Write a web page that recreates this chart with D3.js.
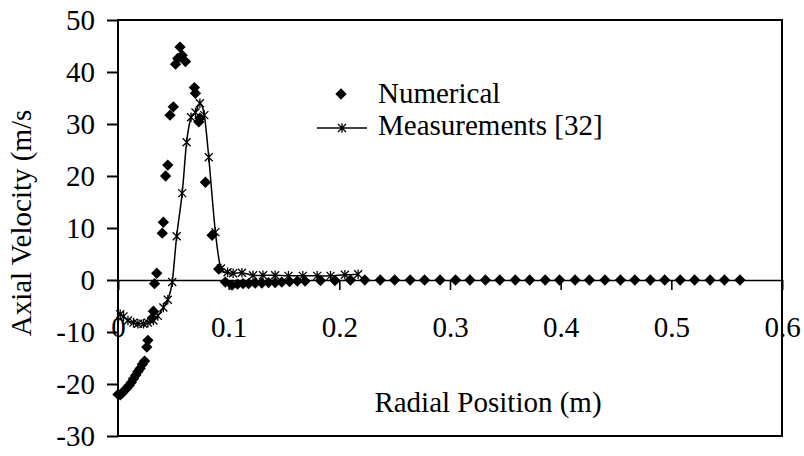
<!DOCTYPE html>
<html>
<head>
<meta charset="utf-8">
<script src="https://cdn.jsdelivr.net/npm/d3@7/dist/d3.min.js"></script>
<style>
body { margin: 0; background: #fff; }
text { font-family: "Liberation Serif", "Times New Roman", serif; fill: #000; }
</style>
</head>
<body>
<div class="chart"></div>
<script>
// Numerical results (diamonds)
var numX = [0.000, 0.002, 0.004, 0.006, 0.008, 0.010, 0.012, 0.014, 0.016, 0.018, 0.020, 0.022, 0.024,
	0.026, 0.027, 0.031, 0.032, 0.033, 0.035, 0.040, 0.041, 0.043, 0.045, 0.047, 0.050,
	0.052, 0.054, 0.056, 0.058, 0.061, 0.069, 0.070, 0.073, 0.074, 0.079, 0.085, 0.091,
	0.097, 0.103, 0.108, 0.113, 0.118, 0.124, 0.130, 0.136, 0.142, 0.148, 0.155, 0.162,
	0.169, 0.183, 0.196, 0.210, 0.223, 0.237, 0.250, 0.264, 0.277, 0.291, 0.305, 0.318,
	0.332, 0.345, 0.359, 0.372, 0.386, 0.399, 0.413, 0.426, 0.440, 0.454, 0.467, 0.481,
	0.494, 0.508, 0.521, 0.535, 0.548, 0.562];
var numY = [-22.0, -22.1, -21.7, -21.2, -20.8, -20.3, -19.7, -19.0, -18.3, -17.6, -17.0, -16.2, -15.6,
	-12.9, -11.6, -7.3, -6.0, -0.7, 1.3, 9.0, 11.1, 20.0, 22.1, 31.7, 33.3,
	41.5, 42.6, 44.8, 43.2, 42.0, 37.0, 35.9, 30.4, 31.1, 18.8, 8.6, 2.1,
	-0.4, -1.0, -0.8, -0.7, -0.7, -0.6, -0.6, -0.5, -0.5, -0.4, -0.3, -0.2,
	-0.2, -0.1, -0.1, 0, 0, 0, 0, 0, 0, 0, 0, 0,
	0, 0, 0, 0, 0, 0, 0, 0, 0, 0, 0, 0,
	0, 0, 0, 0, 0, 0];

// Measurements [32] (asterisks + smoothed line)
var measX = [0.002, 0.005, 0.009, 0.014, 0.018, 0.023, 0.027, 0.032, 0.036, 0.041, 0.045, 0.049,
	0.053, 0.058, 0.062, 0.066, 0.070, 0.074, 0.078, 0.082, 0.088, 0.093, 0.099, 0.104,
	0.112, 0.122, 0.131, 0.142, 0.154, 0.167, 0.180, 0.192, 0.205, 0.217];
var measY = [-6.6, -7.0, -7.8, -8.2, -8.4, -8.4, -8.2, -7.8, -6.9, -5.3, -3.8, -0.4,
	8.4, 16.7, 26.5, 31.3, 32.2, 34.0, 31.7, 23.6, 9.2, 2.2, 1.5, 1.3,
	1.4, 0.9, 0.9, 0.9, 0.8, 0.8, 0.8, 0.8, 1.0, 1.1];

var xTicks = [0, 0.1, 0.2, 0.3, 0.4, 0.5, 0.6];
var xTickLabels = ["0", "0.1", "0.2", "0.3", "0.4", "0.5", "0.6"];
var yTicks = [-30, -20, -10, 0, 10, 20, 30, 40, 50];

var seriesNames = ["Numerical", "Measurements [32]"];
var xTitle = "Radial Position (m)";
var yTitle = "Axial Velocity (m/s";

var width = 804,
	height = 456;
var fontSize = 29;

var x = d3.scaleLinear().domain([0, 0.6]).range([118, 782]);
var y = d3.scaleLinear().domain([-30, 50]).range([436, 20]);

var svg = d3.select(".chart")
	.append("svg")
	.attr("width", width)
	.attr("height", height);

//Plot area frame
svg.append("rect")
	.attr("x", x(0))
	.attr("y", y(50))
	.attr("width", x(0.6) - x(0))
	.attr("height", y(-30) - y(50))
	.style("fill", "none")
	.style("stroke", "#000")
	.style("stroke-width", 2);

//Y axis
var yAxis = svg.append("g")
	.attr("transform", "translate(" + x(0) + ",0)")
	.call(d3.axisLeft(y).tickValues(yTicks).tickSize(11).tickPadding(12).tickFormat(function(d){ return d; }));
yAxis.select(".domain").remove();
yAxis.selectAll("line").style("stroke", "#000").style("stroke-width", 2);
yAxis.selectAll("text")
	.attr("font-size", fontSize)
	.attr("font-family", null)
	.attr("dy", "0.33em");

//X axis at y = 0
var xAxis = svg.append("g")
	.attr("transform", "translate(0," + y(0) + ")")
	.call(d3.axisBottom(x).tickValues(xTicks).tickSize(10)
		.tickFormat(function(d, i){ return xTickLabels[i]; }));
xAxis.select(".domain").style("stroke", "#000").style("stroke-width", 1.6);
xAxis.selectAll("line").style("stroke", "#000").style("stroke-width", 1.6);
xAxis.selectAll("text")
	.attr("font-size", fontSize)
	.attr("font-family", null)
	.attr("dy", null)
	.attr("y", 57);

//Axis titles
svg.append("text")
	.attr("x", 488)
	.attr("y", 412)
	.attr("text-anchor", "middle")
	.attr("font-size", fontSize)
	.text(xTitle);

svg.append("text")
	.attr("transform", "translate(31,223) rotate(-90)")
	.attr("text-anchor", "middle")
	.attr("font-size", fontSize)
	.text(yTitle);

//Marker shapes
var diamond = d3.symbol().type(d3.symbolSquare).size(64);
var star = function(s){
	return "M" + (-s) + "," + (-s) + "L" + s + "," + s +
		"M" + (-s) + "," + s + "L" + s + "," + (-s) +
		"M0," + (-s * 1.2) + "L0," + (s * 1.2);
};

//Numerical series
svg.selectAll(".num")
	.data(numX)
	.enter()
	.append("path")
	.attr("class", "num")
	.attr("d", diamond)
	.attr("transform", function(d, i){
		return "translate(" + x(d) + "," + y(numY[i]) + ") rotate(45)";
	})
	.style("fill", "#000");

//Measurements series
var line = d3.line()
	.x(function(d){ return x(d[0]); })
	.y(function(d){ return y(d[1]); })
	.curve(d3.curveCardinal.tension(0));

svg.append("path")
	.datum(d3.zip(measX, measY))
	.attr("d", line)
	.style("fill", "none")
	.style("stroke", "#000")
	.style("stroke-width", 1.5);

svg.selectAll(".meas")
	.data(measX)
	.enter()
	.append("path")
	.attr("class", "meas")
	.attr("d", star(4))
	.attr("transform", function(d, i){
		return "translate(" + x(d) + "," + y(measY[i]) + ")";
	})
	.style("fill", "none")
	.style("stroke", "#000")
	.style("stroke-width", 1.3);

//Legend
var legend = svg.append("g");
legend.append("path")
	.attr("d", diamond)
	.attr("transform", "translate(341,94) rotate(45)")
	.style("fill", "#000");
legend.append("line")
	.attr("x1", 317).attr("x2", 367)
	.attr("y1", 128).attr("y2", 128)
	.style("stroke", "#000")
	.style("stroke-width", 1.5);
legend.append("path")
	.attr("d", star(4))
	.attr("transform", "translate(342,128)")
	.style("fill", "none")
	.style("stroke", "#000")
	.style("stroke-width", 1.3);
legend.selectAll("text")
	.data(seriesNames)
	.enter()
	.append("text")
	.attr("x", 378)
	.attr("y", function(d, i){ return 103 + i * 32; })
	.attr("font-size", fontSize)
	.text(function(d){ return d; });
</script>
</body>
</html>
